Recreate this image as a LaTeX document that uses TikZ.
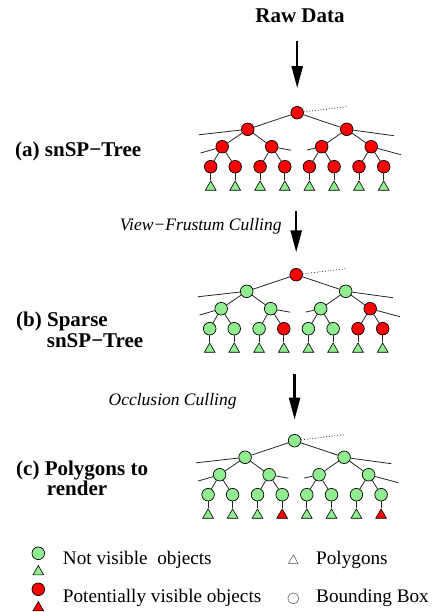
\documentclass[tikz,border=0pt]{standalone}
\usepackage{fontspec}
\setmainfont{Liberation Serif}
\usepackage{tikz}
\usetikzlibrary{arrows.meta}
\usetikzlibrary{positioning}
\usetikzlibrary{shapes.geometric}

\definecolor{nvgreen}{RGB}{144,238,144}
\definecolor{pvred}{RGB}{255,0,0}

% #1 name, #2 root, #3 colours of the 15 boxes, #4 colours of the 8 polygons
\newcommand{\snsptree}[4]{%
  \begin{scope}[shift={#2}]
    \foreach \i/\x/\y in {1/0/0, 2/-49.5/16.6, 3/49.5/16.6,
        4/-75/34, 5/-25.5/34, 6/24.5/34, 7/74/34,
        8/-86.5/54, 9/-62/54, 10/-37.1/54, 11/-12.4/54,
        12/12.2/54, 13/36.9/54, 14/61.8/54, 15/86.5/54} {
      \pgfmathtruncatemacro\col{{#3}[\i-1]}
      \node[bbox, vis\col] (#1\i) at (\x,\y) {};
    }
    \foreach \i in {2,...,15} {
      \pgfmathtruncatemacro\up{\i/2}
      \draw[edge] (#1\up) -- (#1\i);
    }
    \foreach \i in {1,...,8} {
      \pgfmathtruncatemacro\col{{#4}[\i-1]}
      \pgfmathtruncatemacro\leaf{\i+7}
      \node[poly, vis\col, below=7pt of #1\leaf] (#1p\i) {};
      \draw[edge] (#1\leaf) -- (#1p\i);
    }
    \draw[edge, dotted] (#11) -- ++(49.4,-6);
    \draw[edge] (#12) -- ++(-49,5.5);
    \draw[edge] (#13) -- ++(47.2,6.4);
    \draw[edge] (#14) -- ++(-21.7,6.4);
    \draw[edge] (#15) -- ++(19.4,3.5);
    \draw[edge] (#16) -- ++(-15,3.4);
    \draw[edge] (#17) -- ++(29.7,8);
  \end{scope}
}

\begin{document}
\begin{tikzpicture}[x=1pt, y=-1pt,
    bbox/.style={circle, draw=black, line width=0.7pt, minimum size=12.6pt, inner sep=0pt},
    poly/.style={regular polygon, regular polygon sides=3, draw=black, line width=0.6pt,
      minimum size=12.4pt, inner sep=0pt},
    vis0/.style={fill=nvgreen},
    vis1/.style={fill=pvred},
    edge/.style={draw=black!85, line width=0.8pt},
    flow/.style={line width=2.4pt, -{Triangle[length=22pt, width=11pt]}},
    title/.style={font=\fontsize{21}{25}\selectfont\bfseries, inner sep=0pt},
    cull/.style={font=\fontsize{17.5}{20}\selectfont\itshape, inner sep=0pt},
    key/.style={font=\fontsize{19.2}{22}\selectfont, inner sep=0pt}]
  \useasboundingbox (0,0) rectangle (431,612);

  \node[title, anchor=base] (rawdata) at (300,22.7) {Raw Data};

  \snsptree{a}{(297.2,112.7)}{1,1,1,1,1,1,1,1,1,1,1,1,1,1,1}{0,0,0,0,0,0,0,0}
  \snsptree{b}{(296.2,274.7)}{1,0,0,0,0,0,1,0,0,0,1,0,0,1,1}{0,0,0,0,0,0,0,0}
  \snsptree{c}{(294.6,440.7)}{0,0,0,0,0,0,0,0,0,0,0,0,0,0,0}{0,0,0,1,0,0,0,1}

  \node[title, anchor=base west] (alabel) at (15,156.7) {(a) snSP−Tree};
  \node[title, anchor=base west] (blabel) at (16,326) {(b) Sparse};
  \node[title, anchor=base west] (blabel2) at (46.7,347) {snSP−Tree};
  \node[title, anchor=base west] (clabel) at (16,475) {(c) Polygons to};
  \node[title, anchor=base west] (clabel2) at (46.7,495) {render};

  \node[cull, anchor=base east] (vfc) at (281.7,230.5) {View−Frustum Culling};
  \node[cull, anchor=base east] (occ) at (236.7,405) {Occlusion Culling};

  \draw[flow, shorten <=18pt, shorten >=18pt] (rawdata.south -| a1) -- (a1);
  \draw[flow, shorten <=20.7pt, shorten >=15.7pt] (b1 |- ap1.south) -- (b1);
  \draw[flow, shorten <=21.7pt, shorten >=14.4pt] (c1 |- bp1.south) -- (c1);

  % legend
  \node[bbox, vis0] (nvbox) at (38.3,553.3) {};
  \node[poly, vis0, below=5pt of nvbox] (nvpoly) {};
  \node[bbox, vis1] (pvbox) at (38.3,589.3) {};
  \node[poly, vis1, below=5pt of pvbox] (pvpoly) {};
  \node[key, anchor=base west] (nvtext) at (62.7,564) {Not visible\ \ objects};
  \node[key, anchor=base west] (pvtext) at (62.7,602.7) {Potentially visible objects};
  \node[poly, draw=black!70, line width=0.5pt, minimum size=11pt] (polykey) at (293.3,560.5) {};
  \node[key, anchor=base west] (polytext) at (316,564) {Polygons};
  \node[circle, draw=black!70, line width=0.5pt, minimum size=11pt, inner sep=0pt] (bboxkey) at (293.3,598.3) {};
  \node[key, anchor=base west] (bboxtext) at (316,602.7) {Bounding Box};
\end{tikzpicture}
\end{document}
